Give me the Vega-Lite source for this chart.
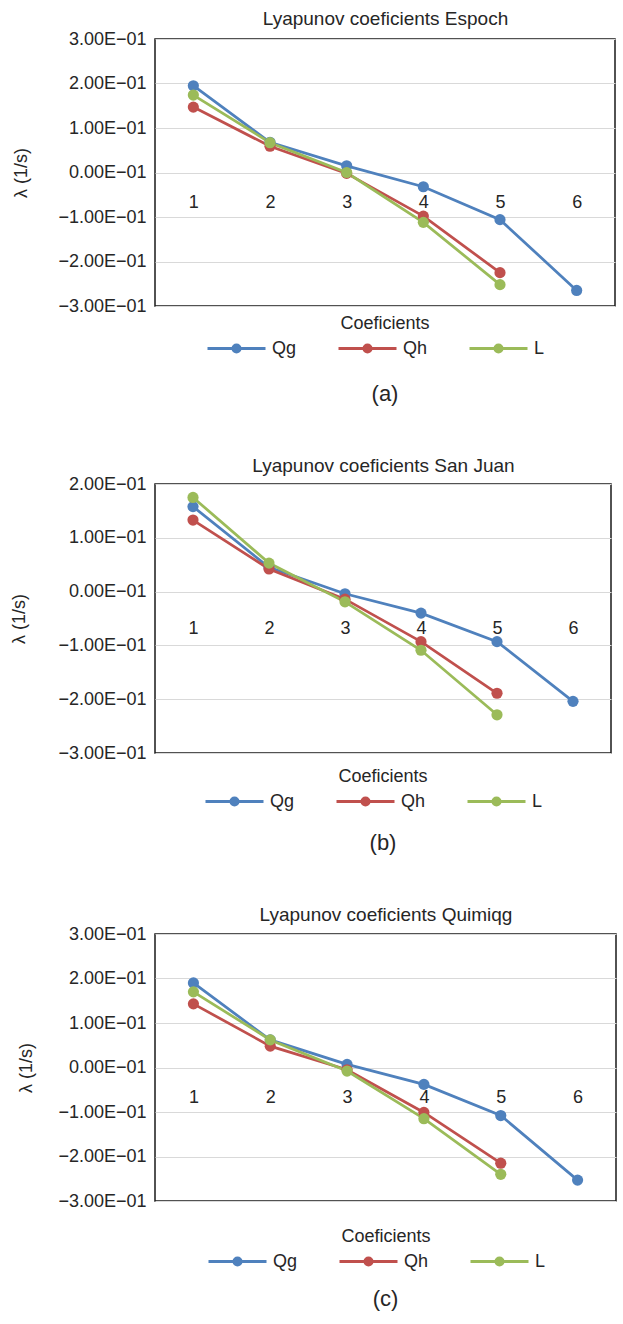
{
  "$schema": "https://vega.github.io/schema/vega-lite/v6.json",
  "padding": {"left": 10, "top": 8, "right": 5, "bottom": 5},
  "config": {
    "font": "Liberation Sans",
    "view": {"stroke": "#1a1a1a", "strokeWidth": 1.5},
    "axis": {"labelFont": "Liberation Sans", "titleFont": "Liberation Sans", "labelColor": "#262626", "titleColor": "#262626", "labelFontSize": 18, "titleFontSize": 18, "titleFontWeight": "normal", "domain": false, "ticks": false, "gridColor": "#d9d9d9", "gridWidth": 1},
    "title": {"font": "Liberation Sans", "fontWeight": "normal", "color": "#262626"},
    "legend": {
      "orient": "bottom", "direction": "horizontal",
      "titleOrient": "top", "titleAnchor": "middle", "titleFontSize": 18, "titleFontWeight": "normal", "titleColor": "#262626", "titlePadding": 4, "titleFont": "Liberation Sans",
      "labelFontSize": 18, "labelColor": "#262626", "labelFont": "Liberation Sans",
      "symbolType": "M-2.9,0L2.9,0M-0.35,0A0.35,0.35,0,1,0,0.35,0A0.35,0.35,0,1,0,-0.35,0",
      "symbolSize": 400, "symbolStrokeWidth": 3,
      "labelOffset": 24, "columnPadding": 35, "offset": 8,
      "layout": {"bottom": {"anchor": "middle"}}
    },
    "concat": {"spacing": 49}
  },
  "datasets": {
    "a": [
      {"coef": "1", "series": "Qg", "lambda": 0.195}, {"coef": "2", "series": "Qg", "lambda": 0.068}, {"coef": "3", "series": "Qg", "lambda": 0.015}, {"coef": "4", "series": "Qg", "lambda": -0.032}, {"coef": "5", "series": "Qg", "lambda": -0.106}, {"coef": "6", "series": "Qg", "lambda": -0.265},
      {"coef": "1", "series": "Qh", "lambda": 0.147}, {"coef": "2", "series": "Qh", "lambda": 0.059}, {"coef": "3", "series": "Qh", "lambda": -0.002}, {"coef": "4", "series": "Qh", "lambda": -0.098}, {"coef": "5", "series": "Qh", "lambda": -0.225},
      {"coef": "1", "series": "L", "lambda": 0.174}, {"coef": "2", "series": "L", "lambda": 0.067}, {"coef": "3", "series": "L", "lambda": 0.0}, {"coef": "4", "series": "L", "lambda": -0.112}, {"coef": "5", "series": "L", "lambda": -0.252}
    ],
    "b": [
      {"coef": "1", "series": "Qg", "lambda": 0.158}, {"coef": "2", "series": "Qg", "lambda": 0.045}, {"coef": "3", "series": "Qg", "lambda": -0.004}, {"coef": "4", "series": "Qg", "lambda": -0.040}, {"coef": "5", "series": "Qg", "lambda": -0.093}, {"coef": "6", "series": "Qg", "lambda": -0.204},
      {"coef": "1", "series": "Qh", "lambda": 0.133}, {"coef": "2", "series": "Qh", "lambda": 0.042}, {"coef": "3", "series": "Qh", "lambda": -0.014}, {"coef": "4", "series": "Qh", "lambda": -0.093}, {"coef": "5", "series": "Qh", "lambda": -0.189},
      {"coef": "1", "series": "L", "lambda": 0.175}, {"coef": "2", "series": "L", "lambda": 0.053}, {"coef": "3", "series": "L", "lambda": -0.019}, {"coef": "4", "series": "L", "lambda": -0.109}, {"coef": "5", "series": "L", "lambda": -0.229}
    ],
    "c": [
      {"coef": "1", "series": "Qg", "lambda": 0.190}, {"coef": "2", "series": "Qg", "lambda": 0.062}, {"coef": "3", "series": "Qg", "lambda": 0.007}, {"coef": "4", "series": "Qg", "lambda": -0.038}, {"coef": "5", "series": "Qg", "lambda": -0.108}, {"coef": "6", "series": "Qg", "lambda": -0.253},
      {"coef": "1", "series": "Qh", "lambda": 0.143}, {"coef": "2", "series": "Qh", "lambda": 0.048}, {"coef": "3", "series": "Qh", "lambda": -0.005}, {"coef": "4", "series": "Qh", "lambda": -0.101}, {"coef": "5", "series": "Qh", "lambda": -0.215},
      {"coef": "1", "series": "L", "lambda": 0.170}, {"coef": "2", "series": "L", "lambda": 0.062}, {"coef": "3", "series": "L", "lambda": -0.008}, {"coef": "4", "series": "L", "lambda": -0.115}, {"coef": "5", "series": "L", "lambda": -0.240}
    ]
  },
  "resolve": {"scale": {"color": "independent"}, "legend": {"color": "independent"}},
  "vconcat": [
    {
      "title": {"text": "(a)", "orient": "bottom", "anchor": "middle", "frame": "group", "fontSize": 22, "offset": 26},
      "width": 460, "height": 267,
      "data": {"name": "a"},
      "encoding": {
        "y": {"field": "lambda", "type": "quantitative", "scale": {"domain": [-0.3, 0.3], "nice": false, "zero": false},
          "axis": {"values": [-0.3, -0.2, -0.1, 0, 0.1, 0.2, 0.3], "labelExpr": "(datum.value < -0.0001 ? '−' : '') + format(abs(datum.value) * 10, '.2f') + 'E−01'", "title": "λ (1/s)", "titlePadding": 27, "labelPadding": 9}},
        "color": {"field": "series", "type": "nominal", "scale": {"domain": ["Qg", "Qh", "L"], "range": ["#4F81BD", "#C0504D", "#9BBB59"]}, "legend": {"title": "Coeficients", "offset": 9}}
      },
      "layer": [
        {"mark": {"type": "line", "strokeWidth": 2.75},
         "encoding": {"x": {"field": "coef", "type": "ordinal", "axis": {"orient": "bottom", "offset": -113, "labelAngle": 0, "title": null, "labelPadding": 0, "grid": false}}}},
        {"mark": {"type": "point", "filled": true, "size": 125, "opacity": 1},
         "encoding": {"x": {"field": "coef", "type": "ordinal", "axis": {"orient": "top", "labels": false, "grid": false, "title": "Lyapunov coeficients  Espoch", "titleFontSize": 19, "titlePadding": 11}}}}
      ],
      "resolve": {"axis": {"x": "independent"}}
    },
    {
      "title": {"text": "(b)", "orient": "bottom", "anchor": "middle", "frame": "group", "fontSize": 22, "offset": 22},
      "width": 456, "height": 269,
      "data": {"name": "b"},
      "encoding": {
        "y": {"field": "lambda", "type": "quantitative", "scale": {"domain": [-0.3, 0.2], "nice": false, "zero": false},
          "axis": {"values": [-0.3, -0.2, -0.1, 0, 0.1, 0.2], "labelExpr": "(datum.value < -0.0001 ? '−' : '') + format(abs(datum.value) * 10, '.2f') + 'E−01'", "title": "λ (1/s)", "titlePadding": 29, "labelPadding": 9}},
        "color": {"field": "series", "type": "nominal", "scale": {"domain": ["Qg", "Qh", "L"], "range": ["#4F81BD", "#C0504D", "#9BBB59"]}, "legend": {"title": "Coeficients", "offset": 15}}
      },
      "layer": [
        {"mark": {"type": "line", "strokeWidth": 2.75},
         "encoding": {"x": {"field": "coef", "type": "ordinal", "axis": {"orient": "bottom", "offset": -134, "labelAngle": 0, "title": null, "labelPadding": 0, "grid": false}}}},
        {"mark": {"type": "point", "filled": true, "size": 125, "opacity": 1},
         "encoding": {"x": {"field": "coef", "type": "ordinal", "axis": {"orient": "top", "labels": false, "grid": false, "title": "Lyapunov coeficients San Juan", "titleFontSize": 19, "titlePadding": 9}}}}
      ],
      "resolve": {"axis": {"x": "independent"}}
    },
    {
      "title": {"text": "(c)", "orient": "bottom", "anchor": "middle", "frame": "group", "fontSize": 22, "offset": 18},
      "width": 461, "height": 267,
      "data": {"name": "c"},
      "encoding": {
        "y": {"field": "lambda", "type": "quantitative", "scale": {"domain": [-0.3, 0.3], "nice": false, "zero": false},
          "axis": {"values": [-0.3, -0.2, -0.1, 0, 0.1, 0.2, 0.3], "labelExpr": "(datum.value < -0.0001 ? '−' : '') + format(abs(datum.value) * 10, '.2f') + 'E−01'", "title": "λ (1/s)", "titlePadding": 22, "labelPadding": 9}},
        "color": {"field": "series", "type": "nominal", "scale": {"domain": ["Qg", "Qh", "L"], "range": ["#4F81BD", "#C0504D", "#9BBB59"]}, "legend": {"title": "Coeficients", "offset": 27}}
      },
      "layer": [
        {"mark": {"type": "line", "strokeWidth": 2.75},
         "encoding": {"x": {"field": "coef", "type": "ordinal", "axis": {"orient": "bottom", "offset": -113, "labelAngle": 0, "title": null, "labelPadding": 0, "grid": false}}}},
        {"mark": {"type": "point", "filled": true, "size": 125, "opacity": 1},
         "encoding": {"x": {"field": "coef", "type": "ordinal", "axis": {"orient": "top", "labels": false, "grid": false, "title": "Lyapunov coeficients Quimiqg", "titleFontSize": 19, "titlePadding": 10}}}}
      ],
      "resolve": {"axis": {"x": "independent"}}
    }
  ]
}
